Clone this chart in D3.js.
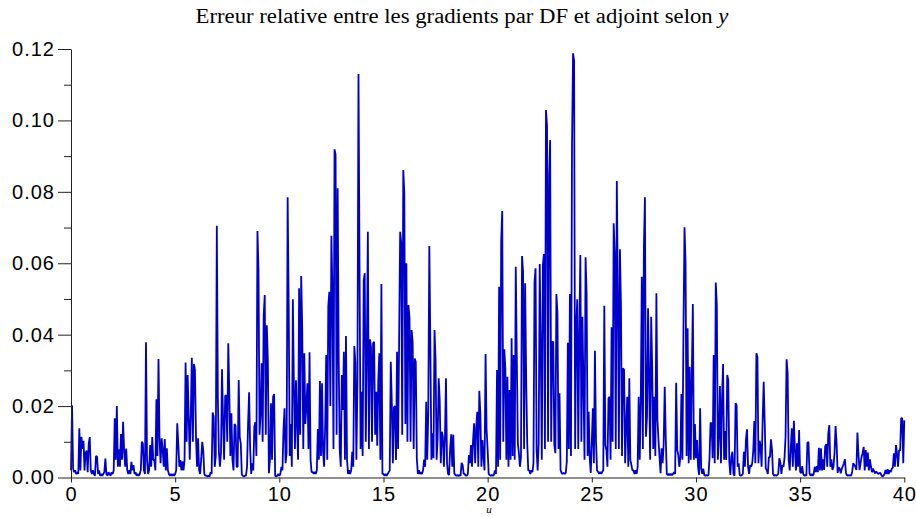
<!DOCTYPE html>
<html><head><meta charset="utf-8">
<script src="https://cdn.jsdelivr.net/npm/d3@7/dist/d3.min.js"></script>
<style>body{margin:0;background:#fff}svg{display:block}</style>
</head><body>
<svg id="chart" width="916" height="517"></svg>
<script>
// ---- data (relative error, in thousandths, sampled every uStep along u) ----
const titleMain = "Erreur relative entre les gradients par DF et adjoint selon ";
const titleVar = "y";
const xLabel = "u";
const xTickValues = [0, 5, 10, 15, 20, 25, 30, 35, 40];
const yTickValues = [0, 0.02, 0.04, 0.06, 0.08, 0.10, 0.12];
const yMinorTickValues = [0.01, 0.03, 0.05, 0.07, 0.09, 0.11];
const uStep = 0.05;

const err0to10 = [
 2,20.2,2.5,1.5,2,1,1.5,1,13.8,2,11.4,8,10.3,2,6.9,7.5,1.5,9.5,11.3,2,
 1,2,1,0.5,6,5.8,1,2,0.5,1,0.5,1,1.5,5.3,1,0.5,1.5,1,0.5,1.5,
 1,2,16.6,5,20,3,7.9,3,12.2,5,15.6,7.7,3,8.1,2,1,2,1,4.4,2,
 3.5,1,1.5,0.5,1,0.5,1,2,10,9.5,2,1,37.9,4.9,1,2,9.1,3,11.3,4.9,
 4.9,2,21.9,6,33.2,10.8,4,11,7.9,3,10.8,2,8.2,2,1,0.5,1,0.5,1,0.5,
 1,2,15.2,9.5,3,4.9,2,4.5,2,4.8,32.2,10,28.7,17,5,17.6,33.5,10,31.8,30.1,
 11.3,3,11,2,1,5.2,10,7.5,1,0.5,0.5,0.3,0.5,0.3,1.5,1,18.2,17,3,6,
 70.5,22.2,7,3,7,30.3,15.8,5,22.9,23,10,37.6,23.5,6,18,5,2,15,14.5,3,
 3,27.3,11.2,9.5,0.8,0.5,0.3,0.5,0.5,3,15,23.9,8,1,4,2,14.2,15.5,6,69,
 58.3,12,18,32,10,45.5,51.1,12,42.6,32.6,1.2,5,20.8,5,22.6,23.4,0.5,0.3,0.5,1
];
const err10to20 = [
 0.5,1,3,2,13.4,19.4,4,7,78.5,47.8,6,15,3,49.9,26,8,27.2,15,5,53,
 12,56.4,41.6,8,34.8,15,20.3,26.4,8,35.1,4.9,1.5,1.6,1,1.6,1,2,13.6,5,27,
 6,26.4,7.2,3,14.2,34.3,5,48,52,20,67.7,51.6,8,91.9,90.5,12,81,32.9,7.7,3,
 28.7,18.9,35.2,5,39.6,4.9,1,2,1,2,7.2,3,36.8,32.4,5,26.6,113,59,8,24,
 6,55.1,57.2,10,34.8,68.8,8,38.7,36.6,10,37.6,38,12,24,8.9,27.3,34.8,5,54.2,1,
 1,0.5,1,0.5,1,1.5,2,32.4,20.8,4,19.6,20,4.9,35.2,8,38,68.8,65.9,12,86.1,
 79.6,15,60,10,48.3,44.6,10,41.3,38,8,33.3,32.4,5.4,1,2,1,1.5,1,2,5,
 3,21.2,5,18.4,64.8,37.1,5,12.4,5.4,41.3,32.9,5,11,27.8,21.7,4,12.8,11.5,3,11,
 27.8,4,1,0.7,8.2,12.1,3,12,1.2,0.7,0.5,0.7,0.4,0.7,0.5,4.1,3.5,1,1,0.5,
 0.5,1,6.3,4,9.1,3,10.5,15.2,4,13.8,18.4,3,24.3,18,3,10.5,5.8,2,34.6,13.3
];
const err20to30 = [
 7.7,1,0.7,0.5,0.7,0.5,0.7,2,1,30.1,3,53.4,5,66.3,74.6,10,35.9,30.6,5,28.2,
 3,24.5,5,39,6,34.3,5,59,33.4,9.6,6.8,3,5.8,62,57.6,8,54.4,27.5,9.6,2,
 2,1,2,1.5,4,54.8,58.6,7.7,2,9.6,59.8,35.7,5,59.5,62.6,8,102.9,98.4,10,84.4,
 94.5,10,38,38,9.1,6.8,51.4,46,8,23.6,2.1,1.3,1,1.3,1,1.3,4.4,37.7,8,51.4,
 6,93.1,118.8,116.7,8,41.5,49.9,8,40.4,62.3,10,45,25.4,5,61.7,51.6,6,18.4,5.4,1.3,
 10,19.4,4,35.5,10.5,2,1.6,1,1.6,1,1.6,2,48.1,9.1,7.7,3,22.2,22.6,5,42.1,
 10,71.2,62.8,8,83,52.5,8,63.9,47.8,6,30.6,30.1,4,14.2,22.6,3,27.8,4.9,3.5,2,
 2,1,2,1,3,22.6,5,21.2,56.2,8,64.6,78.5,11.4,17,47.4,28.2,5,45,30.6,8,
 22.6,6,51.6,16.1,10.5,5.8,1.2,8.2,4,9.6,25.4,11,1,0.7,1,0.7,1,0.7,1,1.5,
 1,26.5,7.7,6.3,3,5.7,23.4,5,41.8,70.1,60,6,41.8,4,31,5,28.7,48.6,5,15
];
const err30to40 = [
 5.4,10.5,3,0.7,19.4,2.5,1,2.5,0.7,0.5,0.7,0.5,0.7,5.4,15.3,15.1,5.4,34.3,4,54.6,
 48.6,5,11.4,25.6,4,22.2,31.8,5,13,4.9,28.7,27.3,4.4,0.7,5.8,7.2,1,0.5,20.8,20.3,
 3,4,0.7,0.5,0.7,1,7.2,3,10.7,13.5,3,1,3.5,3,4,7.5,15.8,4,34.8,33.8,
 4,10.3,9.1,3,15.9,26.8,15.4,2.5,2,1,5.7,5.7,10.7,7.7,1,0.5,0.7,0.5,0.7,1,
 5.4,4.3,1,3.5,3,5.4,11.4,33.1,29.2,4.9,2,8.2,13.8,3,15.9,7.7,2,9.6,3,13.3,
 1.6,1.2,3.2,1,0.5,0.7,0.5,9.8,9.9,1.2,0.5,1,0.5,1,3,1.5,3.2,1.5,8.3,2,
 8.2,2,5.1,2.1,8.6,9.4,3,12.2,14.7,3,5.1,2.1,3,6.8,14.4,9.6,1.3,2.8,2.5,1.2,
 2.5,3.2,4,5.1,1.2,0.5,0.7,0.5,0.7,0.5,1.7,4,3.5,3,2.1,12.6,6.6,2.1,4,5.8,
 6.8,8.6,2,7.7,3,7,2,5.1,3,1.5,2.5,1.7,1.2,1.7,1.3,1,1.2,1.3,0.7,0.3,
 0.5,1,2.1,1,2.3,1,2,1.5,2.5,2.8,6.8,3,9.1,6.8,3,7.7,7.5,16.6,16.6,4,
 16
];

// ---- build ----
const values = [].concat(err0to10, err10to20, err20to30, err30to40);
const series = values.map((v, i) => ({u: +(i * uStep).toFixed(2), e: v / 1000}));

const svg = d3.select("#chart");
const x = d3.scaleLinear().domain([0, 40]).range([71, 904.3]);
const y = d3.scaleLinear().domain([0, 0.12]).range([477.5, 49]);

// line
svg.append("path")
  .datum(series)
  .attr("fill", "none")
  .attr("stroke", "#0000cd")
  .attr("stroke-width", 1.8)
  .attr("stroke-linejoin", "bevel")
  .attr("d", d3.line().x(d => x(d.u)).y(d => y(d.e)));

// y axis
svg.append("g").attr("transform", "translate(71,0)")
  .call(d3.axisLeft(y).tickValues(yTickValues).tickFormat(d3.format(".2f"))
        .tickSize(13).tickSizeOuter(0).tickPadding(3));
svg.append("g").attr("transform", "translate(71,0)")
  .call(d3.axisLeft(y).tickValues(yMinorTickValues).tickFormat("")
        .tickSize(7).tickSizeOuter(0))
  .select(".domain").remove();

// x axis
svg.append("g").attr("transform", "translate(0,477.5)")
  .call(d3.axisBottom(x).tickValues(xTickValues).tickFormat(d3.format("d"))
        .tickSize(5).tickSizeOuter(0).tickPadding(4));

svg.selectAll(".tick text")
  .attr("font-family", "'Liberation Sans', Arial, sans-serif")
  .attr("font-size", 20)
  .attr("letter-spacing", 1)
  .attr("fill", "#000");
svg.selectAll(".domain, .tick line").attr("stroke", "#222").attr("stroke-width", 1);

// title
const t = svg.append("text")
  .attr("x", 462).attr("y", 23)
  .attr("text-anchor", "middle")
  .attr("font-family", "'Liberation Serif', 'Times New Roman', serif")
  .attr("font-size", 20)
  .attr("textLength", 533)
  .attr("lengthAdjust", "spacingAndGlyphs")
  .attr("fill", "#000");
t.append("tspan").text(titleMain);
t.append("tspan").attr("font-style", "italic").text(titleVar);

// x label
svg.append("text")
  .attr("x", 489).attr("y", 513)
  .attr("text-anchor", "middle")
  .attr("font-family", "'Liberation Serif', serif")
  .attr("font-style", "italic")
  .attr("font-size", 11)
  .attr("fill", "#000")
  .text(xLabel);
</script>
</body></html>
